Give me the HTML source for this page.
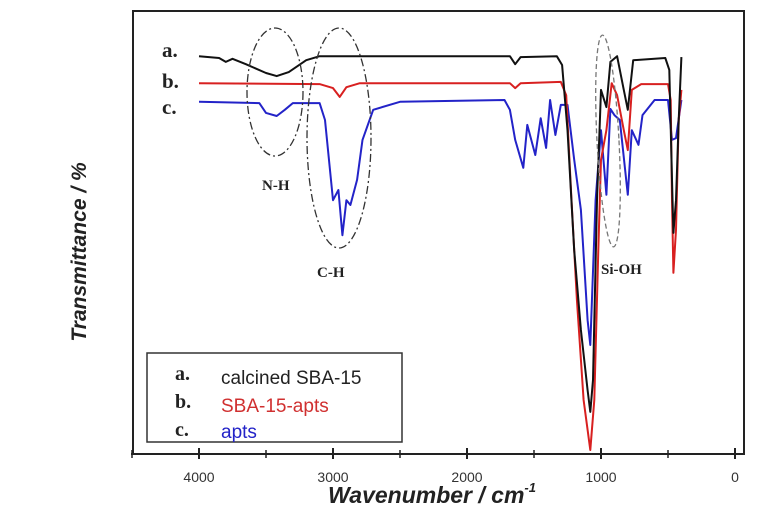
<!DOCTYPE html>
<html><head><meta charset="utf-8"><style>
html,body{margin:0;padding:0;background:#fff;}
svg{display:block;}
</style></head><body>
<svg id="chart" width="774" height="530" viewBox="0 0 774 530" xmlns="http://www.w3.org/2000/svg" font-family="Liberation Sans, sans-serif">
  <rect x="133" y="11" width="611" height="443" fill="none" stroke="#222" stroke-width="2"/>
  <g id="ticks"></g>
  <g id="series"></g>
  <ellipse cx="275" cy="92" rx="28" ry="64" fill="none" stroke="#333" stroke-width="1.3" stroke-dasharray="8,3,2,3"/>
  <ellipse cx="339" cy="138" rx="32" ry="110" fill="none" stroke="#333" stroke-width="1.3" stroke-dasharray="8,3,2,3"/>
  <ellipse cx="608" cy="141" rx="11" ry="106" fill="none" stroke="#777" stroke-width="1.3" stroke-dasharray="5,3" transform="rotate(-3 608 141)"/>
  <g font-family="Liberation Serif, serif" font-weight="bold" fill="#222">
    <text x="162" y="57" font-size="21">a.</text>
    <text x="162" y="88" font-size="21">b.</text>
    <text x="162" y="114" font-size="21">c.</text>
    <text x="262" y="190" font-size="15">N-H</text>
    <text x="317" y="277" font-size="15">C-H</text>
    <text x="601" y="274" font-size="15">Si-OH</text>
  </g>
  <g>
    <rect x="147" y="353" width="255" height="89" fill="#fff" stroke="#333" stroke-width="1.5"/>
    <text x="175" y="380" font-family="Liberation Serif, serif" font-weight="bold" font-size="20" fill="#222">a.</text>
    <text x="175" y="408" font-family="Liberation Serif, serif" font-weight="bold" font-size="20" fill="#222">b.</text>
    <text x="175" y="436" font-family="Liberation Serif, serif" font-weight="bold" font-size="20" fill="#222">c.</text>
    <text x="221" y="384" font-size="19" fill="#222">calcined  SBA-15</text>
    <text x="221" y="412" font-size="19" fill="#d03030">SBA-15-apts</text>
    <text x="221" y="438" font-size="19" fill="#2323c8">apts</text>
  </g>
  <text transform="translate(86,252) rotate(-90)" text-anchor="middle" font-size="21" font-weight="bold" font-style="italic" fill="#222">Transmittance / %</text>
  <text x="432" y="503" text-anchor="middle" font-size="23" font-weight="bold" font-style="italic" fill="#222">Wavenumber / cm<tspan font-size="13" dy="-11">-1</tspan></text>
</svg>
<script>
const waveA = [4000,3850,3800,3750,3650,3500,3420,3330,3200,3100,2000,1680,1640,1600,1330,1290,1250,1200,1150,1100,1080,1060,1030,1000,960,930,880,830,800,760,520,490,470,460,440,420,400];
const transA = [89.8,89.4,88.5,89.2,88,86,85.3,86.2,88.9,89.8,89.8,89.8,88,89.6,89.8,87.8,73.1,46,28,14.4,9.5,16.7,57.3,82.2,78.3,88.5,89.8,82.2,77.7,88.9,89.4,86.7,61.9,49.9,57.3,75.4,89.6];
const waveB = [4000,3100,3000,2950,2900,2800,1680,1640,1600,1300,1260,1220,1180,1130,1080,1050,1020,1000,960,920,880,830,800,770,700,500,480,470,460,440,420,400];
const transB = [83.7,83.5,82.6,80.6,82.8,83.7,83.7,82.6,83.7,84,81,57.3,34.8,12.2,0.9,12.2,46,66.4,73.1,83.7,81,73.1,68.6,82.2,83.5,83.5,79.9,57.3,40.9,50.6,75.4,82.2];
const waveC = [4000,3550,3500,3420,3360,3300,3100,3060,3000,2960,2930,2900,2870,2820,2780,2700,2500,1720,1680,1640,1580,1550,1490,1450,1410,1380,1340,1300,1250,1200,1150,1100,1080,1040,1000,960,930,900,860,800,770,720,690,600,500,470,440,400];
const transC = [79.5,79.2,77,76.3,77.7,79.2,79.2,75.4,57.3,59.6,49.4,57.3,56.2,61.9,70.9,77.7,79.5,79.9,77.7,70.9,64.6,74.3,67.5,75.8,69.1,79.9,72,78.8,78.8,66.4,55.1,30.2,24.6,57.3,73.1,58.5,77.9,76.5,75.4,58.5,73.1,69.8,76.5,79.9,79.9,70.9,71.3,79.9];
const tickValues = [4000,3000,2000,1000,0];
const tickLabels = ["4000","3000","2000","1000","0"];
const minorTicks = [4500,3500,2500,1500,500];

const NS = "http://www.w3.org/2000/svg";
const xS = w => 735 - w * 0.134;
const yS = t => 454 - t * 4.43;

const tg = document.getElementById('ticks');
const axisLine = document.createElementNS(NS,'line');
axisLine.setAttribute('x1',131);axisLine.setAttribute('x2',744);
axisLine.setAttribute('y1',454);axisLine.setAttribute('y2',454);
axisLine.setAttribute('stroke','#222');axisLine.setAttribute('stroke-width',2);


tg.appendChild(axisLine);
tickValues.forEach((v,i)=>{
  const l = document.createElementNS(NS,'line');
  l.setAttribute('x1',xS(v));l.setAttribute('x2',xS(v));
  l.setAttribute('y1',448);l.setAttribute('y2',459);
  l.setAttribute('stroke','#222');l.setAttribute('stroke-width',2);
  
  
  tg.appendChild(l);
  const t = document.createElementNS(NS,'text');
  t.setAttribute('x',xS(v));t.setAttribute('y',482);
  t.setAttribute('text-anchor','middle');t.setAttribute('font-size','14');t.setAttribute('fill','#333');
  t.textContent = tickLabels[i];
  
  
  tg.appendChild(t);
});
minorTicks.forEach(v=>{
  const l = document.createElementNS(NS,'line');
  l.setAttribute('x1',xS(v));l.setAttribute('x2',xS(v));
  l.setAttribute('y1',450);l.setAttribute('y2',458);
  l.setAttribute('stroke','#222');l.setAttribute('stroke-width',1.5);
  
  
  tg.appendChild(l);
});

const sg = document.getElementById('series');
function draw(ws, ts, color, name){
  const p = document.createElementNS(NS,'polyline');
  p.setAttribute('points', ws.map((w,i)=>xS(w).toFixed(1)+','+yS(ts[i]).toFixed(1)).join(' '));
  p.setAttribute('fill','none');p.setAttribute('stroke',color);p.setAttribute('stroke-width',2);
  p.setAttribute('stroke-linejoin','round');
  
  
  sg.appendChild(p);
}
draw(waveC, transC, '#2323c8', 'series-apts');
draw(waveB, transB, '#d82020', 'series-sba15-apts');
draw(waveA, transA, '#111', 'series-calcined-sba15');
</script>
</body></html>
